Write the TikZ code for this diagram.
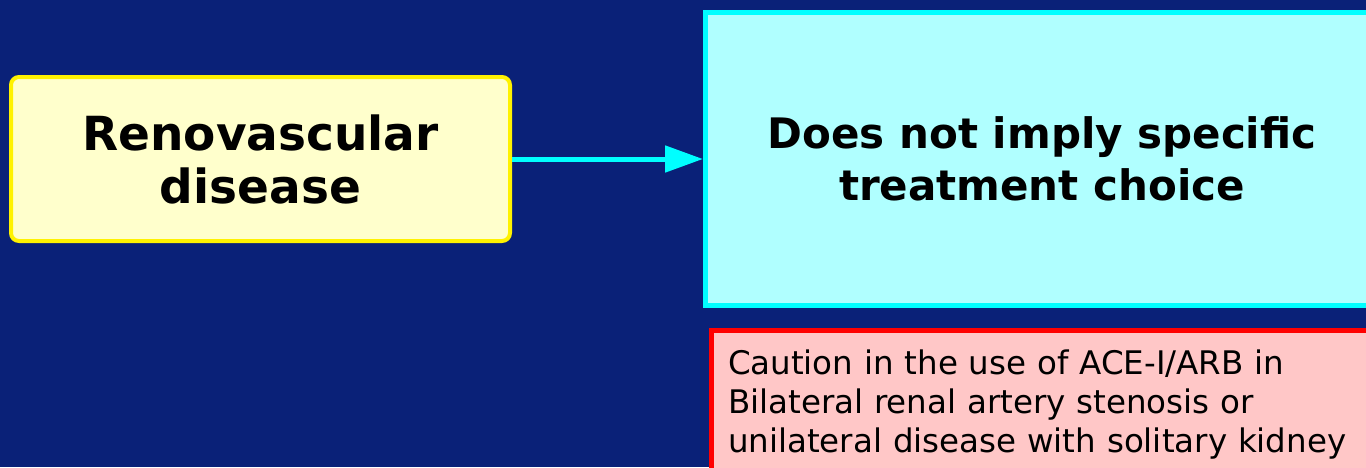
\documentclass[tikz,border=0pt]{standalone}
\usepackage{fontspec}
\setmainfont{DejaVu Sans}
\usepackage{xcolor}
\definecolor{navyback}{rgb}{.04,.13,.47}
\definecolor{paleyellow}{rgb}{1,1,.8}
\definecolor{brightcyan}{rgb}{0,1,1}
\definecolor{palecyan}{rgb}{.69,1,1}
\definecolor{palered}{rgb}{1,.78,.78}
\usetikzlibrary{arrows.meta,positioning}

\begin{document}
\begin{tikzpicture}[x=1pt, y=-1pt, >={Triangle[length=38pt,width=26pt]}, line width=5pt, auto]
   \tikzstyle{every node}=[inner sep=0pt]
   \tikzstyle{bigtext}=[align=center, text=black]
   \tikzstyle{disease}=[rectangle, rounded corners=8pt, draw=yellow, line width=4pt, fill=paleyellow, minimum width=499pt, minimum height=164pt, bigtext, font=\fontsize{47}{53}\selectfont\bfseries]
   \tikzstyle{choice}=[rectangle, draw=brightcyan, fill=palecyan, minimum width=673pt, minimum height=293pt, bigtext, font=\fontsize{42}{52}\selectfont\bfseries]
   \tikzstyle{caution}=[rectangle, draw=red, fill=palered, anchor=north west, text width=640pt, inner xsep=17pt, inner ysep=20pt, align=left, font=\fontsize{32.5}{39}\selectfont, text=black]

   % background and page size
   \fill[navyback] (0,0) rectangle (1366,467);
   \useasboundingbox (0,0) rectangle (1366,467);

   \node[disease] (renovascular) at (260.5,159) {Renovascular\\disease};
   \node[choice] (treatment) at (1042,159) {Does not imply specific\\treatment choice};
   \node[caution] (aceiarb) at (708.5,327.5) {Caution in the use of ACE-I/ARB in\\Bilateral renal artery stenosis or\\unilateral disease with solitary kidney};

   \draw[->, brightcyan] (renovascular) -- (treatment);
 \end{tikzpicture}
\end{document}
